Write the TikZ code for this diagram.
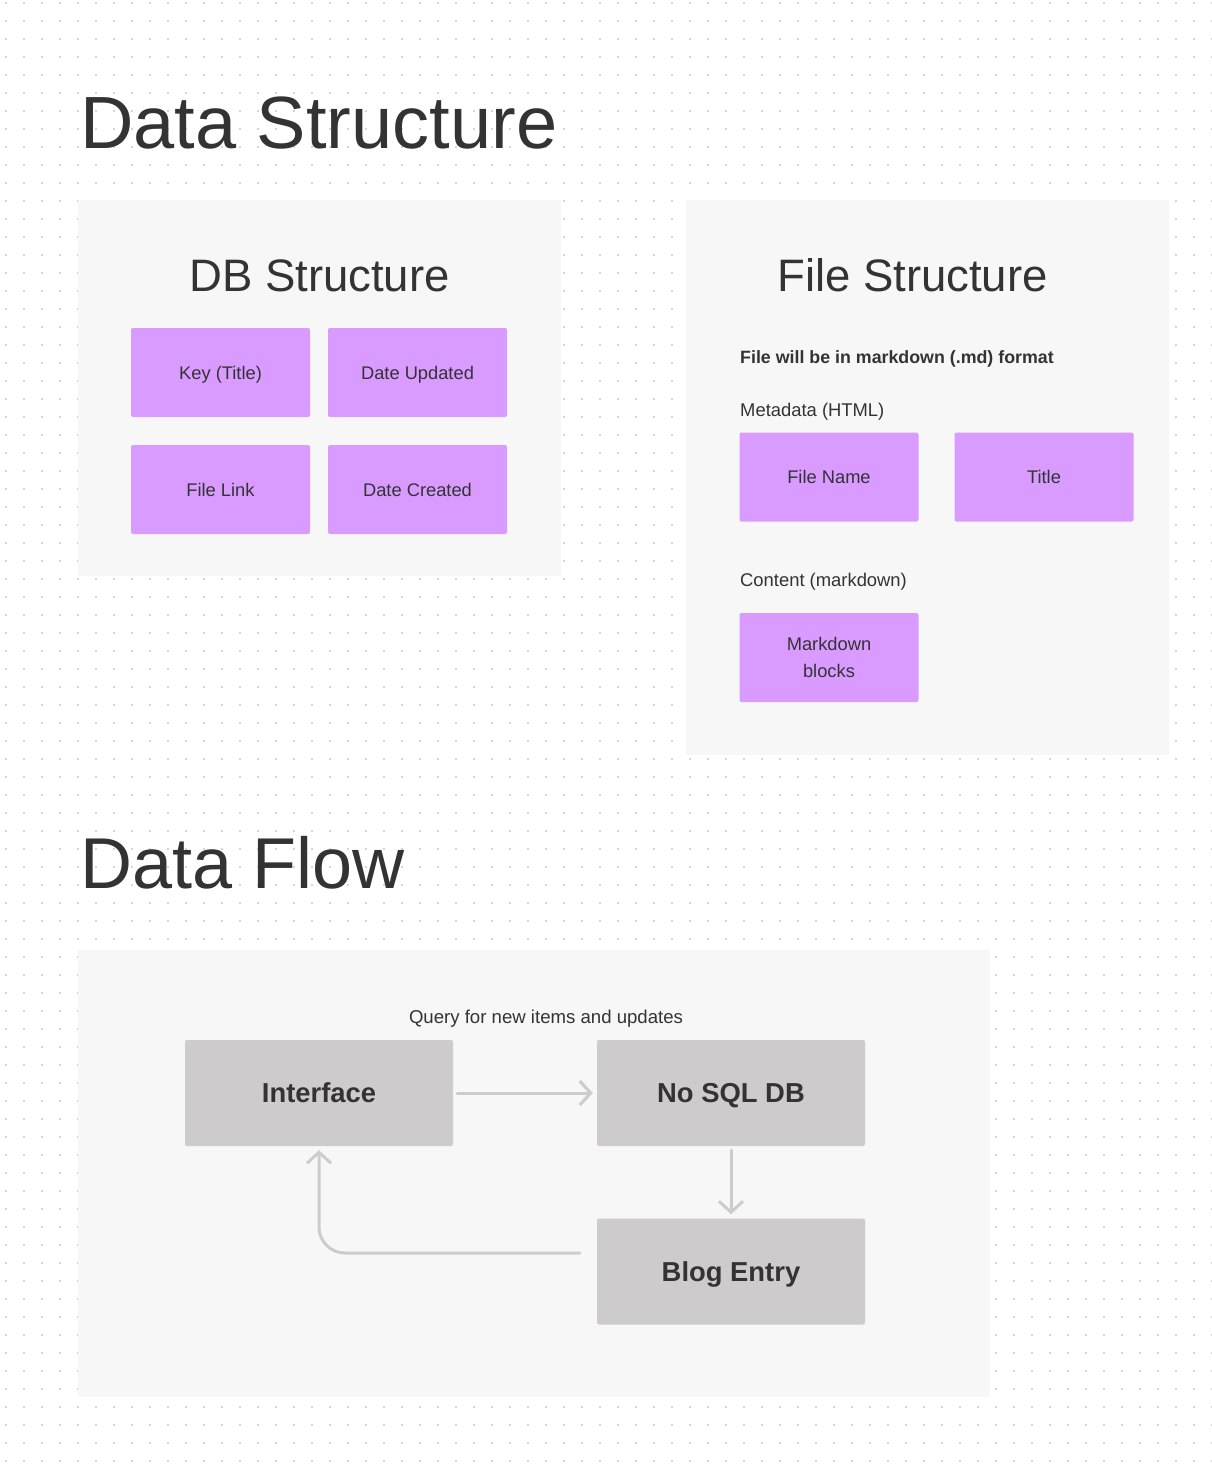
\documentclass[tikz,border=0pt]{standalone}
\usepackage{fontspec}
\setmainfont{Liberation Sans}
\usetikzlibrary{arrows.meta}
\definecolor{ink}{HTML}{333333}
\definecolor{panel}{HTML}{F7F7F7}
\definecolor{purp}{HTML}{D99BFF}
\definecolor{gbox}{HTML}{CDCBCC}
\definecolor{arr}{HTML}{CCCCCC}
\definecolor{dotc}{HTML}{C8C8C8}
\begin{document}
\begin{tikzpicture}[x=1pt,y=-1pt,
  panelbox/.style={fill=panel, draw=none, inner sep=0pt, anchor=north west},
  bigtitle/.style={inner sep=0pt, anchor=base west, text=ink, font=\fontsize{74}{80}\selectfont},
  subtitle/.style={inner sep=0pt, anchor=base, text=ink, font=\fontsize{45.5}{50}\selectfont},
  pbox/.style={fill=purp, rounded corners=2pt, minimum width=179pt, minimum height=89pt, inner sep=0pt, text=ink, font=\fontsize{18.3}{27}\selectfont, align=center},
  onel/.style={text height=13.1pt, text depth=0pt},
  gbx/.style={fill=gbox, rounded corners=2pt, minimum width=268pt, minimum height=106pt, inner sep=0pt, text=ink, font=\fontsize{27.4}{30}\selectfont\bfseries, text height=19.6pt, text depth=0pt},
  label/.style={inner sep=0pt, anchor=base west, text=ink, font=\fontsize{18.4}{22}\selectfont},
  flow/.style={draw=arr, line width=3pt, line cap=round, line join=round, -{Straight Barb[length=11pt,width=24pt]}}
]
\useasboundingbox (0,0) rectangle (1212,1468);
\fill[white] (0,0) rectangle (1212,1468);
\foreach \y in {3,21,...,1461}{
  \fill[dotc] \foreach \x in {6,24,...,1212}{ (\x,\y) circle (1.1pt) };
}
% titles
\node[bigtitle] (t1) at (80,148) {Data Structure};
\node[bigtitle, font=\fontsize{72}{80}\selectfont] (t2) at (80,888) {Data Flow};
% panels
\node[panelbox, minimum width=483pt, minimum height=376pt] (dbpanel) at (78,200) {};
\node[panelbox, minimum width=483pt, minimum height=555pt] (fpanel) at (686,200) {};
\node[panelbox, minimum width=912pt, minimum height=447pt] (flowpanel) at (78,950) {};
% DB structure
\node[subtitle] (dbt) at (319.5,291) {DB Structure};
\node[pbox, onel] (key) at (220.5,372.5) {Key (Title)};
\node[pbox, onel] (upd) at (417.5,372.5) {Date Updated};
\node[pbox, onel] (link) at (220.5,489.5) {File Link};
\node[pbox, onel] (cre) at (417.5,489.5) {Date Created};
% File structure
\node[subtitle] (ft) at (912.5,291) {File Structure};
\node[label, font=\fontsize{17.8}{22}\selectfont\bfseries] (fmt) at (740,363.5) {File will be in markdown (.md) format};
\node[label] (meta) at (740,416.5) {Metadata (HTML)};
\node[pbox, onel] (fname) at (829,477) {File Name};
\node[pbox, onel] (title) at (1044,477) {Title};
\node[label] (cont) at (740,586.5) {Content (markdown)};
\node[pbox] (mdb) at (829,657.5) {Markdown\\blocks};
% Data flow
\node[inner sep=0pt, anchor=base, text=ink, font=\fontsize{18.6}{22}\selectfont] (q) at (546,1023.5) {Query for new items and updates};
\node[gbx] (iface) at (319,1093) {Interface};
\node[gbx] (nosql) at (731,1093) {No SQL DB};
\node[gbx] (blog) at (731,1271.5) {Blog Entry};
\draw[flow, shorten <=4pt, shorten >=4pt] (iface) -- (nosql);
\draw[flow, shorten <=4pt, shorten >=4pt] (nosql) -- (blog);
\draw[flow, rounded corners=26pt] ([xshift=-17pt,yshift=18.5pt]blog.west) -| ([yshift=-4pt]iface.south);
\end{tikzpicture}
\end{document}
